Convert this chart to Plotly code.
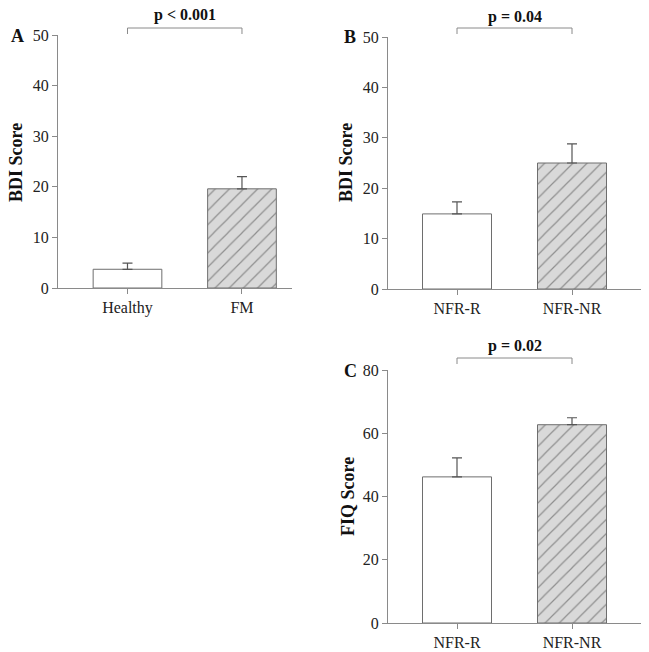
import plotly.graph_objects as go

# ---- data ----
groups_A = ["Healthy", "FM"]
bdi_A = [3.7, 19.6]
bdi_A_err = [1.2, 2.4]

groups_B = ["NFR-R", "NFR-NR"]
bdi_B = [14.9, 25.0]
bdi_B_err = [2.4, 3.8]

groups_C = ["NFR-R", "NFR-NR"]
fiq_C = [46.2, 62.7]
fiq_C_err = [6.0, 2.2]

p_labels = ["p < 0.001", "p = 0.04", "p = 0.02"]
panel_letters = ["A", "B", "C"]

W, H = 649, 652
FONT = "Liberation Serif, Times New Roman, serif"
AX = "#8a8a8a"
BAR_LINE = "#6e6e6e"
ERR = "#555555"

def px_x(p):
    return p / W

def px_y(p):
    return 1 - p / H

fig = go.Figure()

panels = [
    dict(groups=groups_A, vals=bdi_A, err=bdi_A_err, xa="x", ya="y"),
    dict(groups=groups_B, vals=bdi_B, err=bdi_B_err, xa="x2", ya="y2"),
    dict(groups=groups_C, vals=fiq_C, err=fiq_C_err, xa="x3", ya="y3"),
]

for pnl in panels:
    fig.add_trace(go.Bar(
        x=pnl["groups"], y=pnl["vals"],
        xaxis=pnl["xa"], yaxis=pnl["ya"],
        width=0.6,
        marker=dict(
            color=["white", "#d9d9d9"],
            line=dict(color=BAR_LINE, width=1),
            pattern=dict(shape=["", "/"], bgcolor=["white", "#d9d9d9"],
                         fgcolor="#707070", size=10, solidity=0.12),
        ),
        error_y=dict(type="data", array=pnl["err"], arrayminus=[0, 0],
                     symmetric=False, color=ERR, thickness=1.2, width=5),
        showlegend=False,
        hoverinfo="skip",
    ))

axis_common = dict(
    showline=True, linecolor=AX, linewidth=1,
    ticks="outside", tickcolor=AX, ticklen=5, tickwidth=1,
    showgrid=False, zeroline=False, automargin=False,
    tickfont=dict(family=FONT, size=16, color="#222"),
)

fig.update_layout(
    width=W, height=H,
    margin=dict(l=0, r=0, t=0, b=0, pad=0),
    plot_bgcolor="white", paper_bgcolor="white",
    xaxis=dict(domain=[px_x(58), px_x(292)], anchor="y", range=[-0.607, 1.437], **axis_common),
    yaxis=dict(domain=[px_y(288), px_y(35)], anchor="x", range=[0, 50], dtick=10, **axis_common),
    xaxis2=dict(domain=[px_x(388), px_x(641)], anchor="y2", range=[-0.6, 1.6], **axis_common),
    yaxis2=dict(domain=[px_y(289), px_y(37)], anchor="x2", range=[0, 50], dtick=10, **axis_common),
    xaxis3=dict(domain=[px_x(388), px_x(641)], anchor="y3", range=[-0.6, 1.6], **axis_common),
    yaxis3=dict(domain=[px_y(623), px_y(370)], anchor="x3", range=[0, 80], dtick=20, **axis_common),
)

# brackets and p-value labels
brackets = [
    dict(xref="x", groups=groups_A, top=28, drop=34, text_y=15, text=p_labels[0]),
    dict(xref="x2", groups=groups_B, top=28, drop=34, text_y=17, text=p_labels[1]),
    dict(xref="x3", groups=groups_C, top=358, drop=364, text_y=346, text=p_labels[2]),
]
for b in brackets:
    g0, g1 = b["groups"]
    for seg in [(g0, b["drop"], g0, b["top"]), (g0, b["top"], g1, b["top"]), (g1, b["top"], g1, b["drop"])]:
        fig.add_shape(type="line", xref=b["xref"], yref="paper",
                      x0=seg[0], y0=px_y(seg[1]), x1=seg[2], y1=px_y(seg[3]),
                      line=dict(color=AX, width=1))
    fig.add_annotation(xref=b["xref"], yref="paper", x=0.5, y=px_y(b["text_y"]),
                       text=f"<b>{b['text']}</b>", showarrow=False,
                       font=dict(family=FONT, size=16, color="#111"),
                       xanchor="center", yanchor="middle")

# panel letters
for letter, (lx, ly) in zip(panel_letters, [(17, 36), (350, 37), (350, 371)]):
    fig.add_annotation(xref="paper", yref="paper", x=px_x(lx), y=px_y(ly),
                       text=f"<b>{letter}</b>", showarrow=False,
                       font=dict(family=FONT, size=18, color="#111"),
                       xanchor="center", yanchor="middle")

# axis titles
for title, (tx, ty) in zip(["BDI Score", "BDI Score", "FIQ Score"], [(16, 163), (346, 163), (348, 497)]):
    fig.add_annotation(xref="paper", yref="paper", x=px_x(tx), y=px_y(ty),
                       text=f"<b>{title}</b>", showarrow=False, textangle=-90,
                       font=dict(family=FONT, size=18, color="#111"),
                       xanchor="center", yanchor="middle")

fig.write_html("out.html", config={"displayModeBar": False},
               post_script="document.body.style.margin='0';")
